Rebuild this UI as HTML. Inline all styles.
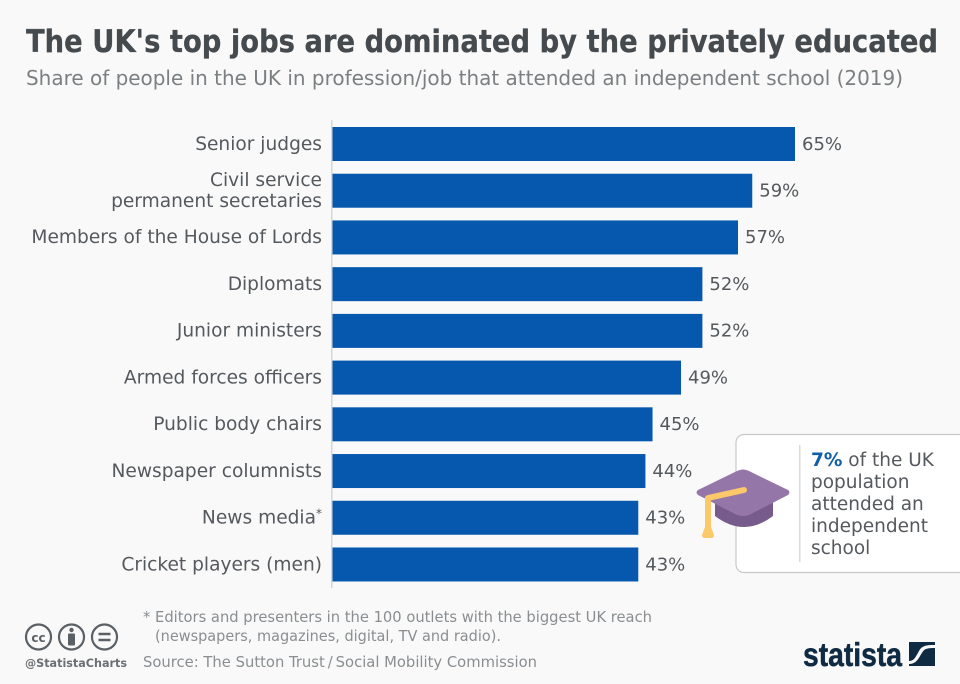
<!DOCTYPE html>
<html lang="en">
<head>
<meta charset="utf-8">
<title>The UK's top jobs are dominated by the privately educated</title>
<style>
html,body{margin:0;padding:0;background:#f9f9f9;}
#wrap{width:960px;height:684px;overflow:hidden;position:relative;background:#f9f9f9;}
svg{display:block;}
text{font-family:"DejaVu Sans","Liberation Sans",sans-serif;}
</style>
</head>
<body>
<div id="wrap">
<svg id="chart" width="960" height="684" viewBox="0 0 960 684" xmlns="http://www.w3.org/2000/svg">
  <text x="26" y="52" font-size="31" font-weight="700" fill="#454a4e" stroke="#454a4e" stroke-width="0.3" textLength="912" lengthAdjust="spacingAndGlyphs">The UK's top jobs are dominated by the privately educated</text>
  <text x="26" y="85" font-size="20" fill="#7b7f82" textLength="877" lengthAdjust="spacingAndGlyphs">Share of people in the UK in profession/job that attended an independent school (2019)</text>
  <g id="bars"></g>
  <g id="labels"></g>
  <g id="values"></g>
  <rect x="331" y="120" width="1.5" height="468" fill="#d4d6d8"/>

  <g>
    <rect x="736" y="434.500" width="240" height="138" rx="8" fill="#ffffff" stroke="#c6c8ca" stroke-width="1.200"/>
    <rect x="799" y="445" width="1.500" height="117" fill="#d9dbdc"/>
    <text font-size="18.5" fill="#55595d"><tspan x="811" y="466" font-weight="700" fill="#0f5ea8">7%</tspan><tspan> of the UK</tspan><tspan x="811" y="488">population</tspan><tspan x="811" y="510">attended an</tspan><tspan x="811" y="532">independent</tspan><tspan x="811" y="554">school</tspan></text>
    <g>
      <path d="M715 500 L715 516 Q744 538 773 516 L773 500 Z" fill="#775b8c"/>
      <path d="M698 490 Q695 492 698 495 L737 515 Q743 517 749 515 L788 495 Q791 492 788 490 L749 471 Q743 468 737 471 Z" fill="#9576a9"/>
      <path d="M708 498 L744 490" stroke="#fbc86a" stroke-width="6" stroke-linecap="round" fill="none"/>
      <path d="M708 497 L708 530" stroke="#fbc86a" stroke-width="6" fill="none"/>
      <path d="M705 527 L711 527 L714 535 Q714 538 711 538 L705 538 Q702 538 702 535 Z" fill="#fbc86a"/>
    </g>
  </g>

  <g fill="none" stroke="#5b6064" stroke-width="2.200">
    <g>
      <circle cx="38.500" cy="637" r="12.500"/>
      <text x="38.500" y="642" text-anchor="middle" font-size="12" font-weight="700" fill="#5b6064" stroke="none">cc</text>
    </g>
    <g>
      <circle cx="71.500" cy="637" r="12.500"/>
      <circle cx="71.500" cy="630" r="2.200" fill="#5b6064" stroke="none"/>
      <rect x="68" y="633.500" width="7" height="12" rx="1" fill="#5b6064" stroke="none"/>
    </g>
    <g>
      <circle cx="104.500" cy="637" r="12.500"/>
      <path d="M98.500 634 H110.500 M98.500 640 H110.500" stroke-width="2.500"/>
    </g>
  </g>
  <text x="25" y="667" font-size="11.500" font-weight="700" fill="#6b6f73" textLength="102" lengthAdjust="spacingAndGlyphs">@StatistaCharts</text>

  <text x="143" y="622" font-size="15" fill="#8a8e91" textLength="509" lengthAdjust="spacingAndGlyphs">* Editors and presenters in the 100 outlets with the biggest UK reach</text>
  <text x="155" y="641" font-size="15" fill="#8a8e91" textLength="346" lengthAdjust="spacingAndGlyphs">(newspapers, magazines, digital, TV and radio).</text>
  <text x="143" y="667" font-size="15" fill="#8a8e91" textLength="394" lengthAdjust="spacingAndGlyphs">Source: The Sutton Trust&#8201;/&#8201;Social Mobility Commission</text>

  <text x="803" y="666" font-size="33" font-weight="700" fill="#0f2a43" stroke="#0f2a43" stroke-width="0.5" textLength="99" lengthAdjust="spacingAndGlyphs" style="font-family:'Liberation Sans',sans-serif">statista</text>
  <g>
    <rect x="909" y="642" width="26" height="24" fill="#0f2a43"/>
    <path d="M909 664 C920 664 920 651 926 649 C929 648 932 648 935 648 L935 645 C928 645 922 645 919 651 C915 658 914 661 909 661 Z" fill="#f9f9f9"/>
  </g>
</svg>
</div>
<script>
const categories = [
  ["Senior judges"],
  ["Civil service", "permanent secretaries"],
  ["Members of the House of Lords"],
  ["Diplomats"],
  ["Junior ministers"],
  ["Armed forces officers"],
  ["Public body chairs"],
  ["Newspaper columnists"],
  ["News media"],
  ["Cricket players (men)"]
];
const shareValues = [65, 59, 57, 52, 52, 49, 45, 44, 43, 43];
const footnoteMarks = ["", "", "", "", "", "", "", "", "*", ""];

const SVG_NS = "http://www.w3.org/2000/svg";
const AXIS_X0 = 332, PX_PER_UNIT = 463 / 65;
const BAND_TOP = 120.3, BAND_STEP = 46.72, BAR_H = 34, BAR_OFFSET = 6.7;
const xScale = v => AXIS_X0 + v * PX_PER_UNIT;
const yBand = i => BAND_TOP + BAR_OFFSET + i * BAND_STEP;

const barsG = document.getElementById("bars");
const labelsG = document.getElementById("labels");
const valuesG = document.getElementById("values");

shareValues.forEach((v, i) => {
  const y = yBand(i);
  const cy = y + BAR_H / 2;

  const bar = document.createElementNS(SVG_NS, "rect");
  bar.setAttribute("x", AXIS_X0);
  bar.setAttribute("y", y.toFixed(2));
  bar.setAttribute("width", (xScale(v) - AXIS_X0).toFixed(2));
  bar.setAttribute("height", BAR_H);
  bar.setAttribute("fill", "#0658ae");
  
  
  barsG.appendChild(bar);

  const val = document.createElementNS(SVG_NS, "text");
  val.setAttribute("x", (xScale(v) + 7).toFixed(2));
  val.setAttribute("y", (cy + 5.8).toFixed(2));
  val.setAttribute("font-size", "18");
  val.setAttribute("fill", "#55595d");
  val.textContent = v + "%";
  
  
  valuesG.appendChild(val);

  const lines = categories[i];
  const lineGap = 21;
  lines.forEach((line, k) => {
    const t = document.createElementNS(SVG_NS, "text");
    t.setAttribute("x", 322);
    const ly = cy + 5.8 + (k - (lines.length - 1) / 2) * lineGap;
    t.setAttribute("y", ly.toFixed(2));
    t.setAttribute("text-anchor", "end");
    t.setAttribute("font-size", "18.6");
    t.setAttribute("fill", "#55595d");
    t.textContent = line;
    if (footnoteMarks[i]) {
      const sup = document.createElementNS(SVG_NS, "tspan");
      sup.setAttribute("font-size", "12");
      sup.setAttribute("dy", "-6");
      sup.textContent = footnoteMarks[i];
      t.appendChild(sup);
    }
    
    
    labelsG.appendChild(t);
  });
});
</script>
</body>
</html>
